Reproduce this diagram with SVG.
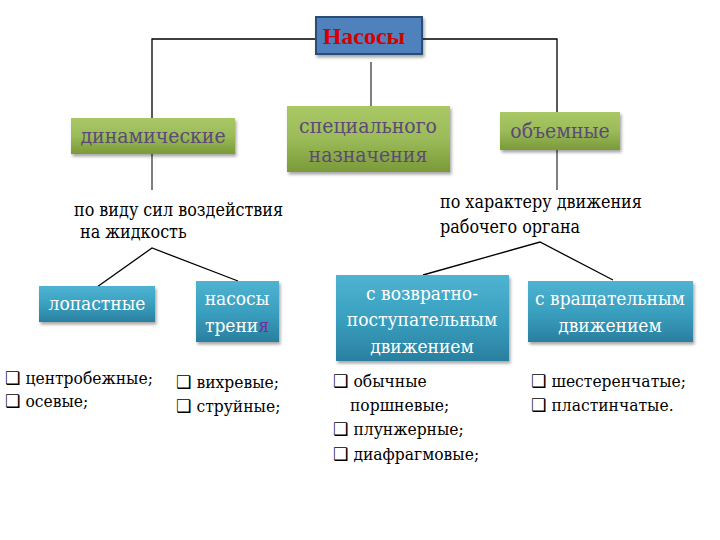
<svg xmlns="http://www.w3.org/2000/svg" width="720" height="540" viewBox="0 0 720 540">
<defs>
<linearGradient id="gGreen" x1="0" y1="0" x2="0" y2="1">
<stop offset="0" stop-color="#a9c865"/>
<stop offset="0.5" stop-color="#9bbb59"/>
<stop offset="1" stop-color="#7a9a3a"/>
</linearGradient>
<linearGradient id="gBlue" x1="0" y1="0" x2="0" y2="1">
<stop offset="0" stop-color="#4fb3d1"/>
<stop offset="0.5" stop-color="#3aa0c0"/>
<stop offset="1" stop-color="#2a7f9f"/>
</linearGradient>
<filter id="sh" x="-10%" y="-10%" width="125%" height="135%">
<feDropShadow dx="1.5" dy="2.5" stdDeviation="1.5" flood-color="#000" flood-opacity="0.35"/>
</filter>
</defs>
<style>
text{font-family:'DejaVu Serif Condensed','DejaVu Serif','DejaVu Sans',serif}
.green{fill:url(#gGreen);filter:url(#sh)}
.blue{fill:url(#gBlue);filter:url(#sh)}
.gt{font-size:21px;fill:#5b4a75;text-anchor:middle}
.bt{font-size:19px;fill:#ffffff;text-anchor:middle}
.lab{font-size:17.8px;fill:#000}
.li{font-size:17.3px;fill:#000}
.c{stroke:#000;stroke-width:1.3;fill:none}
.cg{stroke:#555;stroke-width:1.5;fill:none}
</style>
<rect width="720" height="540" fill="#fff"/>
<g id="connectors">
<polyline class="c" points="152,118 152,39 316,39"/>
<polyline class="c" points="422,39 557,39 557,112"/>
<line class="cg" x1="371" y1="62" x2="371" y2="106"/>
<line class="cg" x1="152" y1="154" x2="152" y2="190"/>
<line class="cg" x1="557" y1="150" x2="557" y2="190"/>
<polyline class="c" points="97,287 152,248 238,281"/>
<polyline class="c" points="423,275 540,242 613,280"/>
</g>
<g id="nasosy">
<rect x="316" y="17" width="106" height="37" fill="#4f81bd" stroke="#2c4d75" stroke-width="2" filter="url(#sh)"/>
<text x="364" y="44" style="font-family:'Liberation Serif',serif" font-size="24" font-weight="bold" fill="#d40000" text-anchor="middle">Насосы</text>
</g>
<g id="dinamicheskie">
<rect class="green" x="71" y="118" width="164" height="36"/>
<text class="gt" x="153" y="143">динамические</text>
</g>
<g id="specialnogo">
<rect class="green" x="287" y="106" width="163" height="66"/>
<text class="gt" x="368" y="133">специального</text>
<text class="gt" x="368" y="162">назначения</text>
</g>
<g id="obemnye">
<rect class="green" x="500" y="112" width="120" height="38"/>
<text class="gt" x="560" y="138">объемные</text>
</g>
<g id="label-left">
<text class="lab" x="74" y="216">по виду сил воздействия</text>
<text class="lab" x="80" y="238">на жидкость</text>
</g>
<g id="label-right">
<text class="lab" x="440" y="208">по характеру движения</text>
<text class="lab" x="440" y="233">рабочего органа</text>
</g>
<g id="lopastnye">
<rect class="blue" x="39" y="286" width="116" height="36"/>
<text class="bt" x="97" y="310">лопастные</text>
</g>
<g id="nasosy-treniya">
<rect class="blue" x="196" y="281" width="83" height="61"/>
<text class="bt" x="237" y="305">насосы</text>
<text class="bt" x="237" y="332">трени<tspan fill="#7030a0">я</tspan></text>
</g>
<g id="vozvratno">
<rect class="blue" x="336" y="275" width="173" height="86"/>
<text class="bt" x="422" y="300">с возвратно-</text>
<text class="bt" x="422" y="326">поступательным</text>
<text class="bt" x="422" y="353">движением</text>
</g>
<g id="vrashchatelnym">
<rect class="blue" x="528" y="281" width="165" height="61"/>
<text class="bt" x="610" y="305">с вращательным</text>
<text class="bt" x="610" y="332">движением</text>
</g>
<g id="list-lopastnye">
<text class="li" x="5" y="384">❑ центробежные;</text>
<text class="li" x="5" y="407">❑ осевые;</text>
</g>
<g id="list-treniya">
<text class="li" x="176" y="388">❑ вихревые;</text>
<text class="li" x="176" y="412">❑ струйные;</text>
</g>
<g id="list-vozvratno">
<text class="li" x="333" y="387">❑ обычные</text>
<text class="li" x="350" y="411">поршневые;</text>
<text class="li" x="333" y="435">❑ плунжерные;</text>
<text class="li" x="333" y="460">❑ диафрагмовые;</text>
</g>
<g id="list-vrashch">
<text class="li" x="531" y="387">❑ шестеренчатые;</text>
<text class="li" x="531" y="411">❑ пластинчатые.</text>
</g>
</svg>
